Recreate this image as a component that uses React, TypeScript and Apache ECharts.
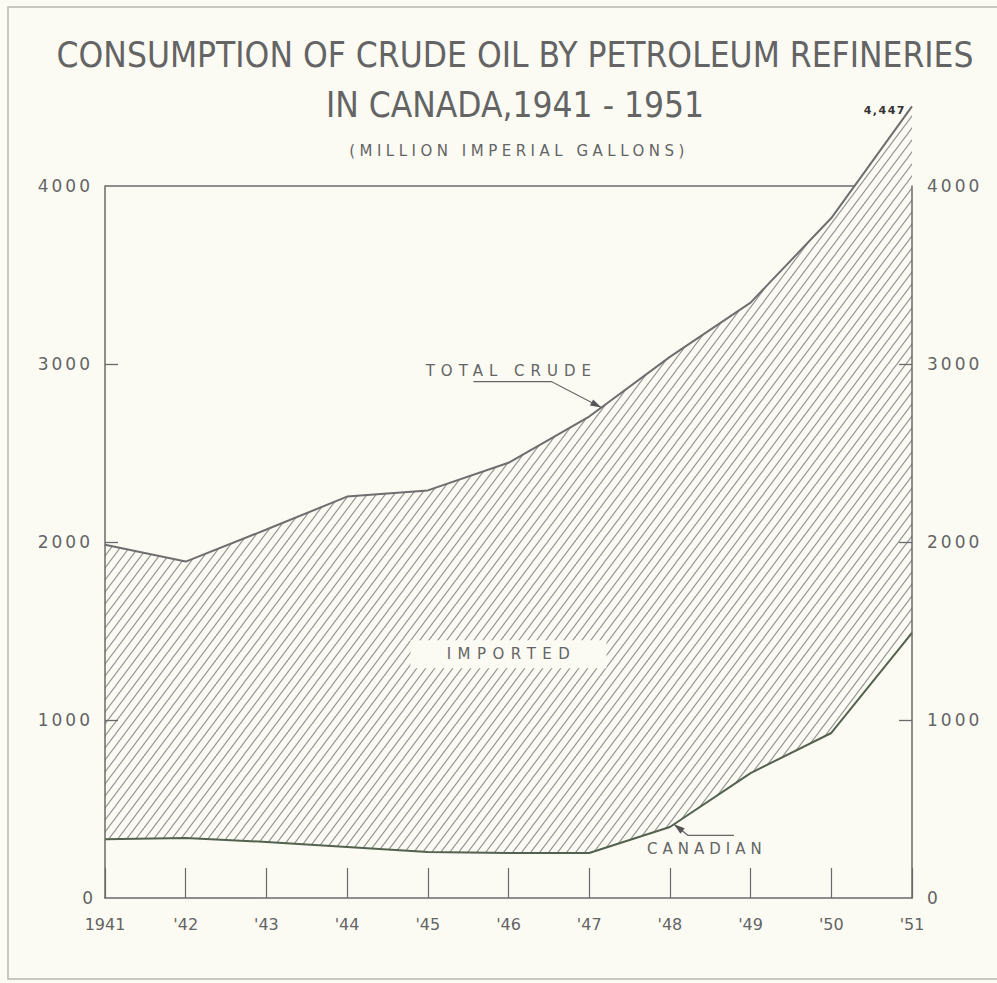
import React, { useEffect, useRef } from "react";
import * as echarts from "echarts";

// ---- data ----
const years = [1941, 1942, 1943, 1944, 1945, 1946, 1947, 1948, 1949, 1950, 1951];
const totalCrude = [1985, 1890, 2070, 2255, 2290, 2445, 2705, 3040, 3345, 3820, 4447];
const canadianCrude = [330, 337, 315, 287, 258, 253, 253, 399, 702, 927, 1489];
const yTickValues = [0, 1000, 2000, 3000, 4000];
const titleLine1 = "CONSUMPTION OF CRUDE OIL BY PETROLEUM REFINERIES";
const titleLine2 = "IN CANADA,1941 - 1951";
const titleLine3 = "(MILLION IMPERIAL GALLONS)";
const labelTotal = "TOTAL CRUDE";
const labelImported = "IMPORTED";
const labelCanadian = "CANADIAN";

const BG = "#fbfbf4";
const INK = "#6a6a6a";
const TEXT = "#646464";
const NARROW = "'Liberation Sans Narrow', 'DejaVu Sans Condensed', 'Noto Sans', sans-serif";
const WIDE = "'DejaVu Sans', 'Noto Sans', sans-serif";

// letter spacing applied to rendered svg texts (px)
const SPACED: Record<string, number> = {
  [titleLine3]: 4.5,
  [labelTotal]: 6,
  [labelImported]: 6.5,
  [labelCanadian]: 5,
  [totalCrude[totalCrude.length - 1].toLocaleString("en-US")]: 1.5,
};

function makeHatch() {
  const w = 9;
  const h = 12;
  const c = document.createElement("canvas");
  c.width = w;
  c.height = h;
  const ctx = c.getContext("2d")!;
  ctx.fillStyle = BG;
  ctx.fillRect(0, 0, w, h);
  ctx.strokeStyle = "#929292";
  ctx.lineWidth = 1.1;
  for (const dx of [-w, 0, w]) {
    ctx.beginPath();
    ctx.moveTo(dx - w, 2 * h);
    ctx.lineTo(dx + 2 * w, -h);
    ctx.stroke();
  }
  return { url: c.toDataURL("image/png"), w, h };
}

function interp(arr: number[], x: number) {
  const i = Math.floor(x - years[0]);
  const t = x - years[0] - i;
  return arr[i] + (arr[i + 1] - arr[i]) * t;
}

export default function App() {
  const ref = useRef<HTMLDivElement>(null);

  useEffect(() => {
    document.body.style.margin = "0";
    document.body.style.background = BG;
    const chart = echarts.init(ref.current!, null, { renderer: "svg" });
    const hatch = makeHatch();

    const totalPts = years.map((y, i) => [y, totalCrude[i]]);
    const canadianPts = years.map((y, i) => [y, canadianCrude[i]]);
    const last = years.length - 1;
    let crossYear = years[last];
    for (let i = 0; i < last; i++) {
      if (totalCrude[i] <= 4000 && totalCrude[i + 1] > 4000) {
        crossYear = years[i] + (4000 - totalCrude[i]) / (totalCrude[i + 1] - totalCrude[i]);
        break;
      }
    }

    const yAxisBase = {
      type: "value" as const,
      min: 0,
      max: 4000,
      interval: 1000,
      z: 10,
      axisLine: { show: true, lineStyle: { color: INK, width: 1.5 } },
      axisTick: {
        show: true,
        inside: true,
        length: 13,
        customValues: yTickValues.slice(1, -1),
        lineStyle: { color: INK, width: 1.3 },
      },
      splitLine: { show: false },
    };
    const yLabel = (margin: number) => ({
      margin,
      color: TEXT,
      fontFamily: WIDE,
      fontSize: 17,
      customValues: yTickValues,
      formatter: (v: number) => String(v),
    });

    chart.setOption({
      animation: false,
      backgroundColor: BG,
      grid: { left: 105, right: 85, top: 186, bottom: 85 },
      xAxis: {
        type: "value",
        min: years[0],
        max: years[last],
        interval: 1,
        z: 10,
        axisLine: { lineStyle: { color: INK, width: 1.5 } },
        axisTick: { inside: true, length: 30, lineStyle: { color: INK, width: 1.2 } },
        axisLabel: {
          margin: 18,
          color: TEXT,
          fontFamily: WIDE,
          fontSize: 16,
          formatter: (v: number) => (v === years[0] ? String(v) : "'" + String(v).slice(2)),
        },
        splitLine: { show: false },
      },
      yAxis: [
        { ...yAxisBase, position: "left", axisLabel: yLabel(12) },
        { ...yAxisBase, position: "right", axisLabel: yLabel(15) },
      ],
      series: [
        {
          name: "Total crude",
          type: "line",
          data: totalPts,
          showSymbol: false,
          clip: false,
          lineStyle: { color: "#6e6e6e", width: 2 },
          areaStyle: {
            opacity: 1,
            color: {
              image: hatch.url,
              repeat: "repeat",
              imageWidth: hatch.w,
              imageHeight: hatch.h,
            } as any,
          },
          markLine: {
            silent: true,
            symbol: "none",
            label: { show: false },
            lineStyle: { color: INK, width: 1.5, type: "solid" },
            data: [
              [{ coord: [years[0], 4000] }, { coord: [crossYear, 4000] }],
              [{ coord: [years[last], 0] }, { coord: [years[last], totalCrude[last]] }],
            ],
          },
          z: 2,
        },
        {
          name: "Canadian",
          type: "line",
          data: canadianPts,
          showSymbol: false,
          clip: false,
          lineStyle: { color: "#53614f", width: 2 },
          areaStyle: { opacity: 1, color: BG },
          z: 3,
        },
      ],
    });

    const px = (x: number, y: number) =>
      chart.convertToPixel({ xAxisIndex: 0, yAxisIndex: 0 }, [x, y]) as number[];

    const arrowHead = (tip: number[], from: number[]) => {
      const dx = tip[0] - from[0];
      const dy = tip[1] - from[1];
      const len = Math.hypot(dx, dy);
      const ux = dx / len;
      const uy = dy / len;
      const bx = tip[0] - ux * 11;
      const by = tip[1] - uy * 11;
      return {
        type: "polygon",
        shape: { points: [tip, [bx - uy * 3.5, by + ux * 3.5], [bx + uy * 3.5, by - ux * 3.5]] },
        style: { fill: "#555" },
        z: 20,
      };
    };

    const totalTipYear = 1947.15;
    const tTip = px(totalTipYear, interp(totalCrude, totalTipYear));
    const tBend = [tTip[0] - 50, tTip[1] - 26];
    const tStart = [tTip[0] - 128, tTip[1] - 26];

    const canTipYear = 1948.05;
    const cTip = px(canTipYear, interp(canadianCrude, canTipYear));
    const cBend = [cTip[0] + 14, cTip[1] + 11];
    const cEnd = [cTip[0] + 60, cTip[1] + 11];

    const imp = px(1946, 1370);
    const peak = px(years[last], totalCrude[last]);

    chart.setOption({
      graphic: [
        {
          type: "rect",
          shape: { x: 8, y: 7, width: 995, height: 972 },
          style: { fill: "none", stroke: "#b8b8b0", lineWidth: 1.5 },
          silent: true,
          z: 1,
        },
        {
          type: "text",
          x: 515,
          y: 55,
          style: { text: titleLine1, fill: TEXT, font: `35px ${NARROW}`, align: "center", verticalAlign: "middle" },
        },
        {
          type: "text",
          x: 515,
          y: 105,
          style: { text: titleLine2, fill: TEXT, font: `35px ${NARROW}`, align: "center", verticalAlign: "middle" },
        },
        {
          type: "text",
          x: 519,
          y: 151,
          style: { text: titleLine3, fill: TEXT, font: `15px ${WIDE}`, align: "center", verticalAlign: "middle" },
        },
        {
          type: "text",
          x: tTip[0] - 90,
          y: tTip[1] - 37,
          style: { text: labelTotal, fill: TEXT, font: `15px ${WIDE}`, align: "center", verticalAlign: "middle" },
          z: 20,
        },
        {
          type: "polyline",
          shape: { points: [tStart, tBend, tTip] },
          style: { stroke: "#666", lineWidth: 1.2, fill: "none" },
          z: 20,
        },
        arrowHead(tTip, tBend),
        {
          type: "rect",
          shape: { x: imp[0] - 98, y: imp[1] - 14, width: 196, height: 28 },
          style: { fill: BG },
          z: 19,
        },
        {
          type: "text",
          x: imp[0] + 3,
          y: imp[1],
          style: { text: labelImported, fill: TEXT, font: `15px ${WIDE}`, align: "center", verticalAlign: "middle" },
          z: 20,
        },
        {
          type: "polyline",
          shape: { points: [cEnd, cBend, cTip] },
          style: { stroke: "#666", lineWidth: 1.2, fill: "none" },
          z: 20,
        },
        arrowHead(cTip, cBend),
        {
          type: "text",
          x: cTip[0] + 33,
          y: cTip[1] + 25,
          style: { text: labelCanadian, fill: TEXT, font: `15px ${WIDE}`, align: "center", verticalAlign: "middle" },
          z: 20,
        },
        {
          type: "text",
          x: peak[0] - 6,
          y: peak[1] + 4,
          style: {
            text: totalCrude[last].toLocaleString("en-US"),
            fill: "#333",
            font: `bold 11px ${WIDE}`,
            align: "right",
            verticalAlign: "middle",
          },
          z: 20,
        },
      ],
    });

    const applySpacing = () => {
      const root = ref.current;
      if (!root) return;
      root.querySelectorAll("text").forEach((t) => {
        const s = SPACED[t.textContent || ""];
        if (s) (t as SVGTextElement).style.letterSpacing = s + "px";
        else if (/^\d{4}$/.test(t.textContent || "") && t.getAttribute("text-anchor") !== "middle")
          (t as SVGTextElement).style.letterSpacing = "3px";
      });
    };
    applySpacing();
    chart.on("finished", applySpacing);
    const timer = window.setTimeout(applySpacing, 300);

    return () => {
      window.clearTimeout(timer);
      chart.dispose();
    };
  }, []);

  return <div ref={ref} style={{ width: 997, height: 983 }} />;
}
